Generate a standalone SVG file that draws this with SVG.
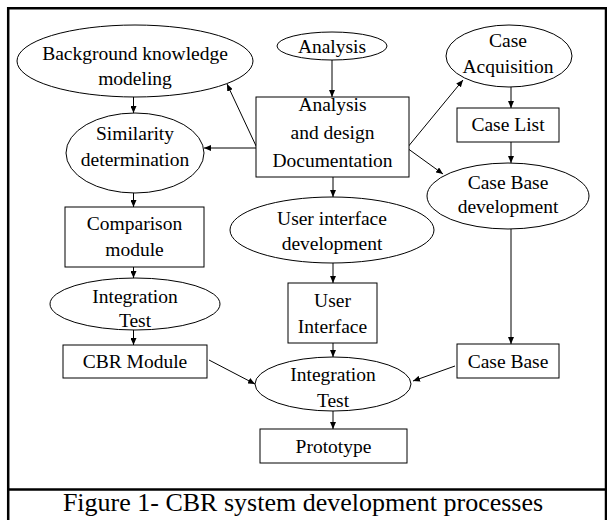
<svg xmlns="http://www.w3.org/2000/svg" width="607" height="520" viewBox="0 0 607 520">
<style>
.n{fill:#fff;stroke:#000;stroke-width:1}
.t{font-family:"Liberation Serif","Times New Roman",serif;font-size:19.5px;fill:#000;text-anchor:middle}
.c{fill:none;stroke:#000;stroke-width:1}
.f{fill:none;stroke:#000;stroke-width:2.5}
</style>
<defs>
<marker id="a" markerUnits="userSpaceOnUse" markerWidth="8" markerHeight="6" refX="7" refY="3" orient="auto">
<path d="M0,0 L7,3 L0,6 Z" fill="#000"/>
</marker>
</defs>
<rect width="607" height="520" fill="#fff"/>
<g id="frame">
<path class="f" d="M8.2,530 V8.2 H606 V530"/>
<line class="f" x1="7" y1="489.5" x2="607" y2="489.5"/>
</g>
<g id="connectors">
<line class="c" x1="332" y1="60" x2="332" y2="97" marker-end="url(#a)"/>
<line class="c" x1="257" y1="148" x2="227" y2="84" marker-end="url(#a)"/>
<line class="c" x1="257" y1="148" x2="204" y2="148" marker-end="url(#a)"/>
<line class="c" x1="133.5" y1="97" x2="133.5" y2="113" marker-end="url(#a)"/>
<line class="c" x1="133.5" y1="193" x2="133.5" y2="207" marker-end="url(#a)"/>
<line class="c" x1="133.5" y1="267" x2="133.5" y2="278" marker-end="url(#a)"/>
<line class="c" x1="133.5" y1="330" x2="133.5" y2="345" marker-end="url(#a)"/>
<line class="c" x1="209" y1="360" x2="255" y2="384" marker-end="url(#a)"/>
<line class="c" x1="407" y1="148" x2="463" y2="80" marker-end="url(#a)"/>
<line class="c" x1="407" y1="148" x2="443" y2="174" marker-end="url(#a)"/>
<line class="c" x1="511" y1="87" x2="511" y2="108" marker-end="url(#a)"/>
<line class="c" x1="511" y1="142" x2="511" y2="163" marker-end="url(#a)"/>
<line class="c" x1="511" y1="229" x2="511" y2="344" marker-end="url(#a)"/>
<line class="c" x1="333" y1="177" x2="333" y2="197" marker-end="url(#a)"/>
<line class="c" x1="333" y1="262" x2="333" y2="283" marker-end="url(#a)"/>
<line class="c" x1="333" y1="343" x2="333" y2="357" marker-end="url(#a)"/>
<line class="c" x1="455" y1="366" x2="413" y2="381" marker-end="url(#a)"/>
<line class="c" x1="333" y1="411" x2="333" y2="429" marker-end="url(#a)"/>
</g>
<g id="bk"><ellipse class="n" cx="135" cy="61" rx="118" ry="36"/><text class="t" x="135" y="60">Background knowledge</text><text class="t" x="135" y="85">modeling</text></g>
<g id="analysis"><ellipse class="n" cx="332" cy="46" rx="55" ry="14"/><text class="t" x="332" y="53">Analysis</text></g>
<g id="add"><rect class="n" x="256" y="97" width="153" height="80"/><text class="t" x="332.5" y="111">Analysis</text><text class="t" x="332.5" y="139">and design</text><text class="t" x="332.5" y="167">Documentation</text></g>
<g id="sim"><ellipse class="n" cx="135" cy="153" rx="69" ry="40"/><text class="t" x="135" y="140">Similarity</text><text class="t" x="135" y="166">determination</text></g>
<g id="cmp"><rect class="n" x="65" y="207" width="139" height="60"/><text class="t" x="134.5" y="230">Comparison</text><text class="t" x="134.5" y="256">module</text></g>
<g id="itl"><ellipse class="n" cx="135" cy="304" rx="85" ry="26"/><text class="t" x="135" y="303">Integration</text><text class="t" x="135" y="327">Test</text></g>
<g id="cbr"><rect class="n" x="63" y="345" width="144" height="33"/><text class="t" x="135" y="368">CBR Module</text></g>
<g id="uid"><ellipse class="n" cx="332" cy="230" rx="102" ry="33"/><text class="t" x="332" y="225">User interface</text><text class="t" x="332" y="250">development</text></g>
<g id="ui"><rect class="n" x="288" y="283" width="89" height="60"/><text class="t" x="332.5" y="307">User</text><text class="t" x="332.5" y="333">Interface</text></g>
<g id="itc"><ellipse class="n" cx="333" cy="384" rx="78" ry="27"/><text class="t" x="333" y="381">Integration</text><text class="t" x="333" y="407">Test</text></g>
<g id="proto"><rect class="n" x="260" y="429" width="147" height="34"/><text class="t" x="333.5" y="453">Prototype</text></g>
<g id="ca"><ellipse class="n" cx="509" cy="56" rx="63" ry="31"/><text class="t" x="508" y="47">Case</text><text class="t" x="508" y="73">Acquisition</text></g>
<g id="cl"><rect class="n" x="457" y="108" width="102" height="34"/><text class="t" x="508" y="131">Case List</text></g>
<g id="cbd"><ellipse class="n" cx="508" cy="196" rx="81" ry="33"/><text class="t" x="508" y="189">Case Base</text><text class="t" x="508" y="213">development</text></g>
<g id="cb"><rect class="n" x="457" y="344" width="102" height="34"/><text class="t" x="508" y="368">Case Base</text></g>
<text x="303" y="511" style="font-family:'Liberation Serif','Times New Roman',serif;font-size:26px;text-anchor:middle">Figure 1- CBR system development processes</text>
</svg>
